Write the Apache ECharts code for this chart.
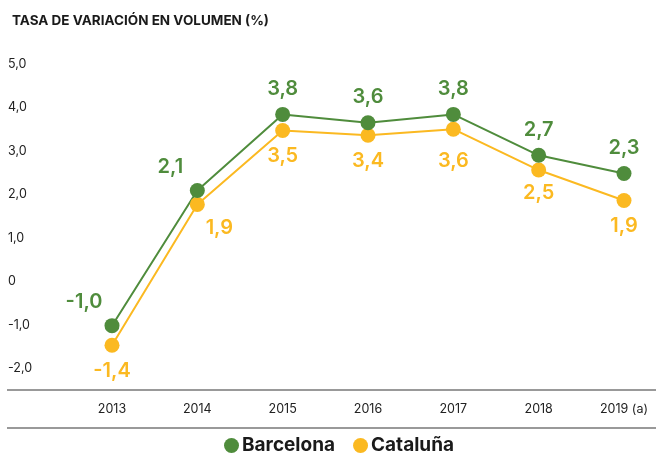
<!DOCTYPE html>
<html>
<head>
<meta charset="utf-8">
<script src="https://cdn.jsdelivr.net/npm/echarts@6/dist/echarts.min.js"></script>
<style>
  html, body { margin: 0; padding: 0; background: #fff; }
  #chart { width: 656px; height: 461px; }
</style>
</head>
<body>
<div id="chart"></div>
<script>
// datos
var years = ['2013', '2014', '2015', '2016', '2017', '2018', '2019 (a)'];
var barcelona = [-1.02, 2.09, 3.84, 3.65, 3.84, 2.90, 2.48];
var cataluna = [-1.47, 1.77, 3.47, 3.36, 3.50, 2.56, 1.86];
var barcelonaText = ['-1,0', '2,1', '3,8', '3,6', '3,8', '2,7', '2,3'];
var catalunaText = ['-1,4', '1,9', '3,5', '3,4', '3,6', '2,5', '1,9'];
var yTicks = [-2, -1, 0, 1, 2, 3, 4, 5];

var verde = '#4f8c3c';
var amarillo = '#fbb921';
var fuente = 'Inter, Roboto, "Liberation Sans", sans-serif';

window.onload = function () {
  var chart = echarts.init(document.getElementById('chart'));

  // etiquetas: algunas van desplazadas a un lado
  function etiquetas(vals, textos, extra) {
    var out = [];
    for (var i = 0; i < vals.length; i++) {
      var item = {
        value: vals[i],
        label: { formatter: textos[i] }
      };
      if (extra[i]) item.label.offset = extra[i];
      out.push(item);
    }
    return out;
  }

  var option = {
    animation: false,
    title: {
      text: 'TASA DE VARIACIÓN EN VOLUMEN (%)',
      left: 7,
      top: 9,
      textStyle: { fontFamily: fuente, fontSize: 13.5, fontWeight: 'bold', color: '#1a1a1a' }
    },
    legend: {
      bottom: 1,
      left: 219,
      icon: 'circle',
      itemWidth: 15,
      itemHeight: 15,
      itemGap: 18,
      textStyle: { fontFamily: fuente, fontSize: 19, fontWeight: 'bold', color: '#1a1a1a', padding: [0, 0, 0, -2] },
      data: ['Barcelona', 'Cataluña']
    },
    grid: { left: 112, right: 32, top: 64, bottom: 71 },
    xAxis: {
      type: 'category',
      data: years,
      boundaryGap: false,
      axisLine: { show: false },
      axisTick: { show: false },
      axisLabel: { fontFamily: fuente, fontSize: 12.5, color: '#222', margin: 13 }
    },
    yAxis: {
      type: 'value',
      min: -2.5,
      max: 5,
      interval: 0.5,
      splitLine: { show: false },
      axisLine: { show: false },
      axisTick: { show: false },
      axisLabel: {
        fontFamily: fuente, fontSize: 12.5, color: '#222',
        align: 'left', margin: 104,
        formatter: function (v) {
          if (yTicks.indexOf(v) < 0) return '';
          return v === 0 ? '0' : v.toFixed(1).replace('.', ',');
        }
      }
    },
    graphic: [
      { type: 'line', shape: { x1: 7, y1: 390, x2: 656, y2: 390 }, style: { stroke: '#777', lineWidth: 1.5 } },
      { type: 'line', shape: { x1: 7, y1: 428, x2: 656, y2: 428 }, style: { stroke: '#777', lineWidth: 1.5 } }
    ],
    series: [
      {
        name: 'Cataluña',
        type: 'line',
        symbol: 'circle',
        symbolSize: 15,
        color: amarillo,
        lineStyle: { width: 2, color: amarillo },
        label: {
          show: true, position: 'bottom', distance: 8,
          fontFamily: fuente, fontSize: 20, fontWeight: 600, color: amarillo
        },
        data: etiquetas(cataluna, catalunaText, { 1: [22, -2], 4: [0, 6], 5: [0, -3] })
      },
      {
        name: 'Barcelona',
        type: 'line',
        symbol: 'circle',
        symbolSize: 15,
        color: verde,
        lineStyle: { width: 2, color: verde },
        label: {
          show: true, position: 'top', distance: 8,
          fontFamily: fuente, fontSize: 20, fontWeight: 600, color: verde
        },
        data: etiquetas(barcelona, barcelonaText, { 0: [-28, 2], 1: [-27, 2] })
      }
    ]
  };

  chart.setOption(option);
};
</script>
</body>
</html>
